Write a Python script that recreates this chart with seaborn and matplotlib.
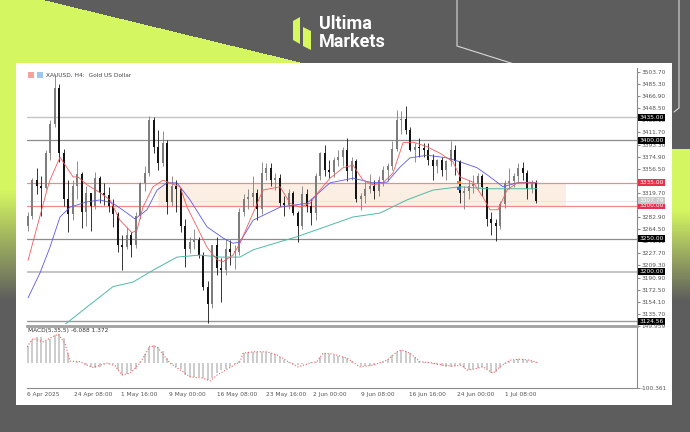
import numpy as np
import pandas as pd
import matplotlib
matplotlib.use("Agg")
import matplotlib.pyplot as plt
import matplotlib.transforms as mtransforms
from matplotlib.patches import Rectangle, Polygon
import seaborn as sns

sns.set_style("white")
plt.rcParams['font.family'] = ['DejaVu Sans']

# ---- data (XAUUSD, half-day candles) ----
first_open = 3270
closes = [3285, 3340, 3330, 3327, 3380, 3424, 3480, 3381, 3310, 3288,
          3330, 3349, 3290, 3319, 3300, 3343, 3320, 3317, 3300, 3288,
          3240, 3238, 3255, 3240, 3285, 3334, 3350, 3431, 3390, 3365,
          3395, 3306, 3330, 3325, 3270, 3235, 3245, 3248, 3225, 3177,
          3150, 3240, 3205, 3203, 3235, 3230, 3230, 3290, 3310, 3314,
          3320, 3295, 3350, 3357, 3340, 3342, 3305, 3301, 3320, 3289,
          3270, 3318, 3300, 3289, 3345, 3381, 3355, 3352, 3370, 3374,
          3385, 3353, 3368, 3310, 3315, 3326, 3330, 3323, 3340, 3354,
          3360, 3386, 3430, 3432, 3415, 3385, 3390, 3388, 3385, 3370,
          3360, 3370, 3355, 3368, 3385, 3368, 3320, 3323, 3330, 3333,
          3345, 3328, 3280, 3274, 3270, 3303, 3335, 3338, 3345, 3357,
          3350, 3326, 3335, 3308]
highs = [3290, 3343, 3357, 3345, 3385, 3430, 3500, 3486, 3386, 3340,
         3340, 3368, 3352, 3330, 3320, 3352, 3345, 3335, 3328, 3310,
         3290, 3255, 3268, 3260, 3290, 3336, 3360, 3437, 3435, 3415,
         3414, 3400, 3345, 3340, 3325, 3280, 3252, 3265, 3252, 3230,
         3185, 3241, 3253, 3220, 3250, 3248, 3240, 3296, 3318, 3325,
         3345, 3325, 3366, 3365, 3365, 3350, 3349, 3315, 3325, 3322,
         3292, 3330, 3325, 3310, 3350, 3382, 3392, 3370, 3375, 3385,
         3390, 3403, 3375, 3372, 3320, 3338, 3349, 3340, 3345, 3360,
         3365, 3399, 3446, 3445, 3452, 3420, 3395, 3403, 3396, 3395,
         3379, 3372, 3375, 3370, 3398, 3392, 3369, 3330, 3340, 3347,
         3350, 3348, 3329, 3290, 3280, 3307, 3340, 3358, 3350, 3365,
         3366, 3355, 3340, 3340]
lows = [3262, 3280, 3318, 3284, 3325, 3370, 3420, 3367, 3300, 3260,
        3279, 3310, 3266, 3270, 3262, 3295, 3305, 3302, 3290, 3268,
        3230, 3202, 3235, 3222, 3236, 3280, 3322, 3345, 3380, 3355,
        3360, 3287, 3300, 3290, 3260, 3207, 3228, 3235, 3220, 3172,
        3121, 3145, 3195, 3154, 3195, 3210, 3204, 3225, 3285, 3295,
        3300, 3278, 3287, 3340, 3330, 3324, 3300, 3285, 3295, 3286,
        3245, 3265, 3290, 3271, 3278, 3340, 3345, 3343, 3344, 3360,
        3360, 3338, 3340, 3306, 3293, 3305, 3320, 3310, 3315, 3330,
        3338, 3355, 3384, 3410, 3410, 3383, 3366, 3375, 3375, 3362,
        3340, 3350, 3345, 3340, 3360, 3347, 3305, 3295, 3311, 3320,
        3325, 3315, 3270, 3255, 3247, 3265, 3296, 3325, 3328, 3335,
        3340, 3311, 3320, 3305]

# moving averages (bar index, price)
red_bar = [0.7, 13.3, 15.3, 22, 30.7, 34, 40, 48.7, 55.3, 62, 70, 73.3, 77.3, 84, 90.7,
           102, 106.7, 113.3, 120, 126.7, 130.7, 137.3, 142, 157.3, 168.7, 175.3, 182,
           188.7, 195.3, 202, 210.7, 217.3, 224, 230.7, 237.3, 244, 250.7, 257.3, 266.7,
           275.3, 284, 288.7, 297.3, 304, 308.7, 314, 320, 326.7, 333.3, 340]
red_val = [3217, 3324, 3339, 3374, 3344, 3344, 3332, 3320, 3309, 3278, 3259, 3263, 3298,
           3329, 3339, 3329, 3298, 3268, 3237, 3218, 3215, 3225, 3243, 3324, 3329, 3304,
           3298, 3304, 3324, 3342, 3358, 3362, 3339, 3332, 3335, 3350, 3396, 3397, 3390,
           3380, 3367, 3344, 3336, 3313, 3294, 3294, 3324, 3335, 3335, 3335]
blue_bar = [0.7, 8.7, 15.3, 22, 28.7, 40, 48.7, 57.3, 66.7, 72, 80, 86.7, 93.3, 100, 108.7,
            120, 130.7, 137.3, 142, 150.7, 168.7, 186.7, 202, 217.3, 230.7, 240, 248.7,
            255.3, 266.7, 280, 288.7, 300, 308.7, 317.3, 326.7, 335.3, 340]
blue_val = [3160, 3198, 3237, 3283, 3298, 3306, 3309, 3304, 3289, 3280, 3294, 3324, 3335,
            3335, 3309, 3268, 3251, 3243, 3245, 3278, 3298, 3304, 3335, 3342, 3335, 3336,
            3359, 3373, 3377, 3373, 3367, 3358, 3344, 3329, 3335, 3336, 3335]
teal_bar = [20, 26.7, 40, 57.3, 70.7, 84, 100, 115.3, 128.7, 142, 150.7, 180, 217.3, 235.3,
            253.3, 270.7, 288.7, 306.7, 317.3, 340]
teal_val = [3110, 3122, 3146, 3177, 3184, 3202, 3222, 3225, 3222, 3222, 3233, 3253, 3283,
            3289, 3309, 3324, 3329, 3326, 3326, 3326]

# MACD(5,35,5) main line, one value per candle
macd_hist = [70, 95, 105, 104, 90, 98, 112, 116, 100, 40,
             2, 4, 2, -8, -16, -20, -14, -4, -2, -4,
             -28, -48, -42, -32, -22, 5, 38, 65, 72, 66,
             50, 20, -4, -14, -24, -48, -55, -55, -57, -62,
             -70, -62, -40, -28, -22, -14, -5, 10, 40, 44,
             46, 46, 46, 46, 42, 35, 24, 12, 4, -4,
             -8, -4, 0, 4, 6, 25, 40, 36, 32, 27,
             24, 20, 10, 2, -12, -13, -10, -6, 0, 6,
             18, 32, 45, 53, 48, 40, 24, 8, 5, 3,
             -2, -6, -10, -14, -15, -11, -8, -20, -27, -24,
             -21, -16, -24, -38, -36, -20, -4, 10, 14, 16,
             15, 12, 8, 3]
sig_bar = [0, 4, 10.7, 17.3, 20.7, 25.3, 28.7, 35.3, 40, 44, 53.3, 58.7, 63.3, 68.7, 75.3,
           82, 86.7, 95.3, 104, 108.7, 117.3, 122, 126.7, 133.3, 142, 144, 150.7, 160,
           166.7, 175.3, 180.7, 188.7, 193.3, 197.3, 204, 213.3, 222, 230.7, 240, 246.7,
           250, 255.3, 262, 268.7, 277.3, 284, 290, 293.3, 297.3, 304, 310.7, 315.3, 322,
           328.7, 335.3, 340.7]
sig_val = [66, 100, 86, 107, 117, 80, 8, 6, -8, -17, 0, -10, -48, -41, 0,
           69, 66, 0, -35, -55, -61, -72, -48, -25, 6, 40, 46, 46,
           33, 2, -15, 0, 6, 40, 37, 20, -15, -8, 12, 46,
           53, 40, 6, 2, -8, -12, -8, -28, -25, -15, -41, -15, 12,
           16, 12, 2]

price_ticks = [3503.70, 3485.30, 3466.90, 3448.50, 3430.10, 3411.70, 3393.30, 3374.90,
               3356.50, 3338.10, 3319.70, 3301.30, 3282.90, 3264.50, 3246.10, 3227.70,
               3209.30, 3190.90, 3172.50, 3154.10, 3135.70]
date_ticks = [0, 31, 63, 95, 127, 159, 191, 223, 255, 287, 319]
date_labels = ['6 Apr 2025', '24 Apr 08:00', '1 May 16:00', '9 May 00:00', '16 May 08:00',
               '23 May 16:00', '2 Jun 00:00', '9 Jun 08:00', '16 Jun 16:00',
               '24 Jun 00:00', '1 Jul 08:00']
gray_levels = [3435.00, 3400.00, 3250.00, 3200.00, 3124.56]
red_levels = [3335.00, 3300.00]
last_price = 3307.79

# ---- figure & background ----
W, H = 690, 432
fig = plt.figure(figsize=(6.9, 4.32), dpi=100)


def fx(x):
    return x / W


def fy(y):
    return 1 - y / H


bg = fig.add_axes([0, 0, 1, 1])
bg.set_xlim(0, W)
bg.set_ylim(H, 0)
bg.axis('off')
yy, xx = np.mgrid[0:H, 0:W]
gray = np.array([0.365, 0.365, 0.365])
lime = np.array([0.835, 0.965, 0.38])
a = np.zeros((H, W))
a[(yy < 63) & (xx < 45 + 259 * yy / 63)] = 1
left = xx < 16
a[left] = np.clip((300 - yy[left]) / 110, 0, 1)
right = xx >= 672
ra = np.clip((300 - yy) / 90, 0, 1) * (yy > 148)
a[right] = ra[right]
img = gray + a[..., None] * (lime - gray)
bg.imshow(img, extent=(0, W, H, 0), aspect='auto', interpolation='bilinear')
bg.plot([457, 457, 533], [0, 46, 70], color='#d8d8d8', lw=0.8)
bg.plot([679, 679, 674], [0, 108, 112], color='#d8d8d8', lw=0.8)
bg.add_patch(Rectangle((16, 63), 656, 342, fc='white', ec='none', zorder=3))

# logo
bg.add_patch(Polygon([[293, 21], [300, 17], [300, 44], [293, 40]], closed=True,
                     fc='#d6f75e', ec='none', zorder=4))
bg.add_patch(Polygon([[303, 27], [311, 31], [311, 50], [303, 46]], closed=True,
                     fc='#d6f75e', ec='none', zorder=4))
bg.text(319, 24, 'Ultima', color='white', fontsize=13, fontweight='bold',
        family=['Roboto', 'DejaVu Sans'], va='center', ha='left', zorder=4)
bg.text(319, 42, 'Markets', color='white', fontsize=13, fontweight='bold',
        family=['Roboto', 'DejaVu Sans'], va='center', ha='left', zorder=4)

# header inside panel
bg.add_patch(Rectangle((28, 72), 6, 6, fc='#f2a19b', ec='none', zorder=4))
bg.add_patch(Rectangle((37, 72), 6, 6, fc='#9fc6ee', ec='none', zorder=4))
bg.text(46, 75.5, 'XAUUSD, H4:  Gold US Dollar', fontsize=4.2, color='#444',
        va='center', ha='left', zorder=4)

# ---- main price pane ----
X_MAX = (637 - 27) / 1.5
ax = fig.add_axes([fx(27), fy(324), fx(637) - fx(27), (324 - 68) / H])
ax.set_facecolor('none')
ax.set_xlim(0, X_MAX)
ax.set_ylim(3120.13, 3509.79)

ax.fill_between([87.3, 359.3], 3300, 3335, color='#fbeee3', lw=0, zorder=1)
for lvl, col, lw in zip(gray_levels, ['#c4c4c4', '#8c8c8c', '#8c8c8c', '#c4c4c4', '#9a9a9a'],
                        [1.0, 0.9, 0.9, 1.4, 1.0]):
    ax.axhline(lvl, color=col, lw=lw, zorder=2)
for lvl in red_levels:
    ax.axhline(lvl, color='#f08a8a', lw=0.9, zorder=2)
ax.axhline(last_price, color='#e4e4e4', lw=0.6, zorder=2)

df = pd.DataFrame({'close': closes, 'high': highs, 'low': lows})
df['open'] = [first_open] + closes[:-1]
df['x'] = np.arange(len(df)) * 3 + 0.5
df['col'] = np.where(df['close'] >= df['open'], '#7d7d7d', '#141414')
ax.vlines(df['x'], df['low'], df['high'], colors=df['col'], lw=0.6, zorder=4)
body_lo = df[['open', 'close']].min(axis=1)
body_h = (df['close'] - df['open']).abs().clip(lower=0.8)
ax.bar(df['x'], body_h, bottom=body_lo, width=1.45, color=df['col'], lw=0, zorder=4)

sns.lineplot(x=teal_bar, y=teal_val, ax=ax, color='#4fb9a6', lw=0.7, estimator=None, zorder=5)
sns.lineplot(x=blue_bar, y=blue_val, ax=ax, color='#5a5ae6', lw=0.6, estimator=None, zorder=5)
sns.lineplot(x=red_bar, y=red_val, ax=ax, color='#f25c5c', lw=0.6, estimator=None, zorder=5)
ax.scatter([288, 288], [3335, 3327], c=['#f07a3a', '#2f6fe0'], s=5, marker='s', lw=0, zorder=6)

ax.yaxis.tick_right()
ax.set_yticks(price_ticks)
ax.set_yticklabels([f'{v:.2f}' for v in price_ticks])
ax.set_xticks([])
ax.tick_params(axis='y', labelsize=4.2, colors='#555', length=2, width=0.5, pad=1)
for s in ['top', 'left', 'bottom']:
    ax.spines[s].set_visible(False)
ax.spines['right'].set_color('#8a8a8a')
ax.spines['right'].set_linewidth(0.8)
ax.set_xlabel('')
ax.set_ylabel('')

tr = mtransforms.blended_transform_factory(ax.transAxes, ax.transData)
tags = [(l, '#000000') for l in gray_levels] + [(l, '#e5304f') for l in red_levels] \
    + [(last_price, '#c9c9c9')]
for lvl, fc in tags:
    ax.text(1.004, lvl, f'{lvl:.2f}', transform=tr, fontsize=4.2, color='white',
            va='center', ha='left', clip_on=False, zorder=10,
            bbox=dict(boxstyle='square,pad=0.18', fc=fc, ec='none'))

# ---- MACD pane ----
ax2 = fig.add_axes([fx(27), fy(388), fx(637) - fx(27), (388 - 326) / H])
ax2.set_facecolor('none')
ax2.set_xlim(0, X_MAX)
ax2.set_ylim(-100.361, 149.959)
ax2.bar(df['x'], macd_hist, width=1.5, color='#cdcdcd', lw=0, zorder=2)
sns.lineplot(x=sig_bar, y=sig_val, ax=ax2, color='#f06060', lw=0.8, linestyle=':',
             estimator=None, zorder=3)
ax2.text(0.5, 140, 'MACD(5,35,5) -6.088 1.372', fontsize=4.2, color='#333',
         va='top', ha='left')
ax2.yaxis.tick_right()
ax2.set_yticks([149.959, -100.361])
ax2.set_yticklabels(['149.959', '-100.361'])
ax2.set_xticks(date_ticks)
ax2.set_xticklabels(date_labels, ha='left')
ax2.tick_params(axis='y', labelsize=4.2, colors='#555', length=2, width=0.5, pad=1)
ax2.tick_params(axis='x', labelsize=4.2, colors='#555', length=2, width=0.5, pad=1)
ax2.set_xlabel('')
ax2.set_ylabel('')
ax2.spines['left'].set_visible(False)
ax2.spines['top'].set_color('#a0a0a0')
ax2.spines['top'].set_linewidth(2.0)
for s in ['right', 'bottom']:
    ax2.spines[s].set_color('#8a8a8a')
    ax2.spines[s].set_linewidth(0.8)

fig.savefig('out.png', dpi=100)
